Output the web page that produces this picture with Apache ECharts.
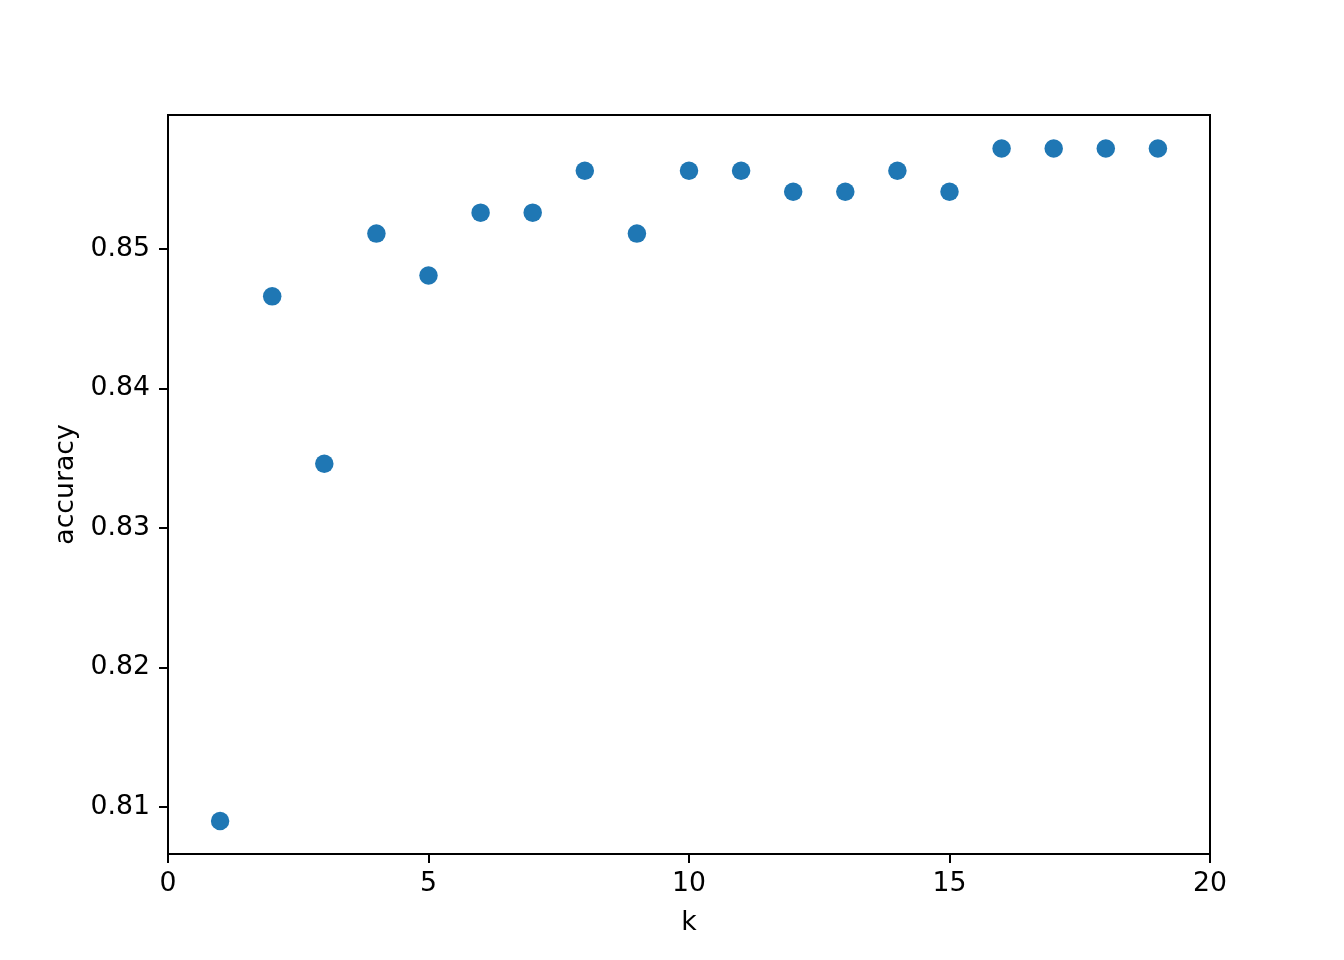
<!DOCTYPE html>
<html>
<head>
<meta charset="utf-8">
<script src="https://cdn.jsdelivr.net/npm/echarts@6/dist/echarts.min.js"></script>
<style>
  html, body { margin: 0; padding: 0; background: #fff; }
  #chart { width: 1344px; height: 960px; }
</style>
</head>
<body>
<div id="chart"></div>
<script>
// k values and the accuracy
const kValues = [1, 2, 3, 4, 5, 6, 7, 8, 9, 10, 11, 12, 13, 14, 15, 16, 17, 18, 19]
const accuracy = [
  0.8090, 0.8466, 0.8346, 0.8511, 0.8481, 0.8526, 0.8526, 0.8556, 0.8511, 0.8556,
  0.8556, 0.8541, 0.8541, 0.8556, 0.8541, 0.8572, 0.8572, 0.8572, 0.8572
]
const yTicks = [0.81, 0.82, 0.83, 0.84, 0.85]

const font = 'DejaVu Sans'
const fontSize = 26.7

const chart = echarts.init(document.getElementById('chart'), null, { renderer: 'canvas' })
chart.setOption({
  animation: false,
  backgroundColor: '#fff',
  grid: {
    left: 168,
    right: 134,
    top: 115,
    bottom: 106,
    show: true,
    borderColor: '#000',
    borderWidth: 2,
    backgroundColor: 'transparent'
  },
  xAxis: {
    type: 'value',
    min: 0,
    max: 20,
    interval: 5,
    name: 'k',
    nameLocation: 'middle',
    nameGap: 56,
    nameTextStyle: { color: '#000', fontFamily: font, fontSize: fontSize },
    axisLine: { show: true, onZero: false, lineStyle: { color: '#000', width: 2 } },
    axisTick: { show: true, length: 9, lineStyle: { color: '#000', width: 2 } },
    axisLabel: { color: '#000', fontFamily: font, fontSize: fontSize, margin: 17 },
    splitLine: { show: false }
  },
  yAxis: {
    type: 'value',
    min: 0.80663,
    max: 0.8596,
    name: 'accuracy',
    nameLocation: 'middle',
    nameGap: 82,
    nameTextStyle: { color: '#000', fontFamily: font, fontSize: fontSize },
    axisLine: { show: true, onZero: false, lineStyle: { color: '#000', width: 2 } },
    axisTick: { show: true, length: 9, customValues: yTicks, lineStyle: { color: '#000', width: 2 } },
    axisLabel: {
      color: '#000',
      fontFamily: font,
      fontSize: fontSize,
      margin: 18,
      customValues: yTicks,
      formatter: v => v.toFixed(2)
    },
    splitLine: { show: false }
  },
  series: [
    {
      type: 'scatter',
      data: kValues.map((k, i) => [k, accuracy[i]]),
      symbol: 'circle',
      symbolSize: 18.5,
      itemStyle: { color: '#1f77b4', opacity: 1 }
    }
  ]
})
</script>
</body>
</html>
